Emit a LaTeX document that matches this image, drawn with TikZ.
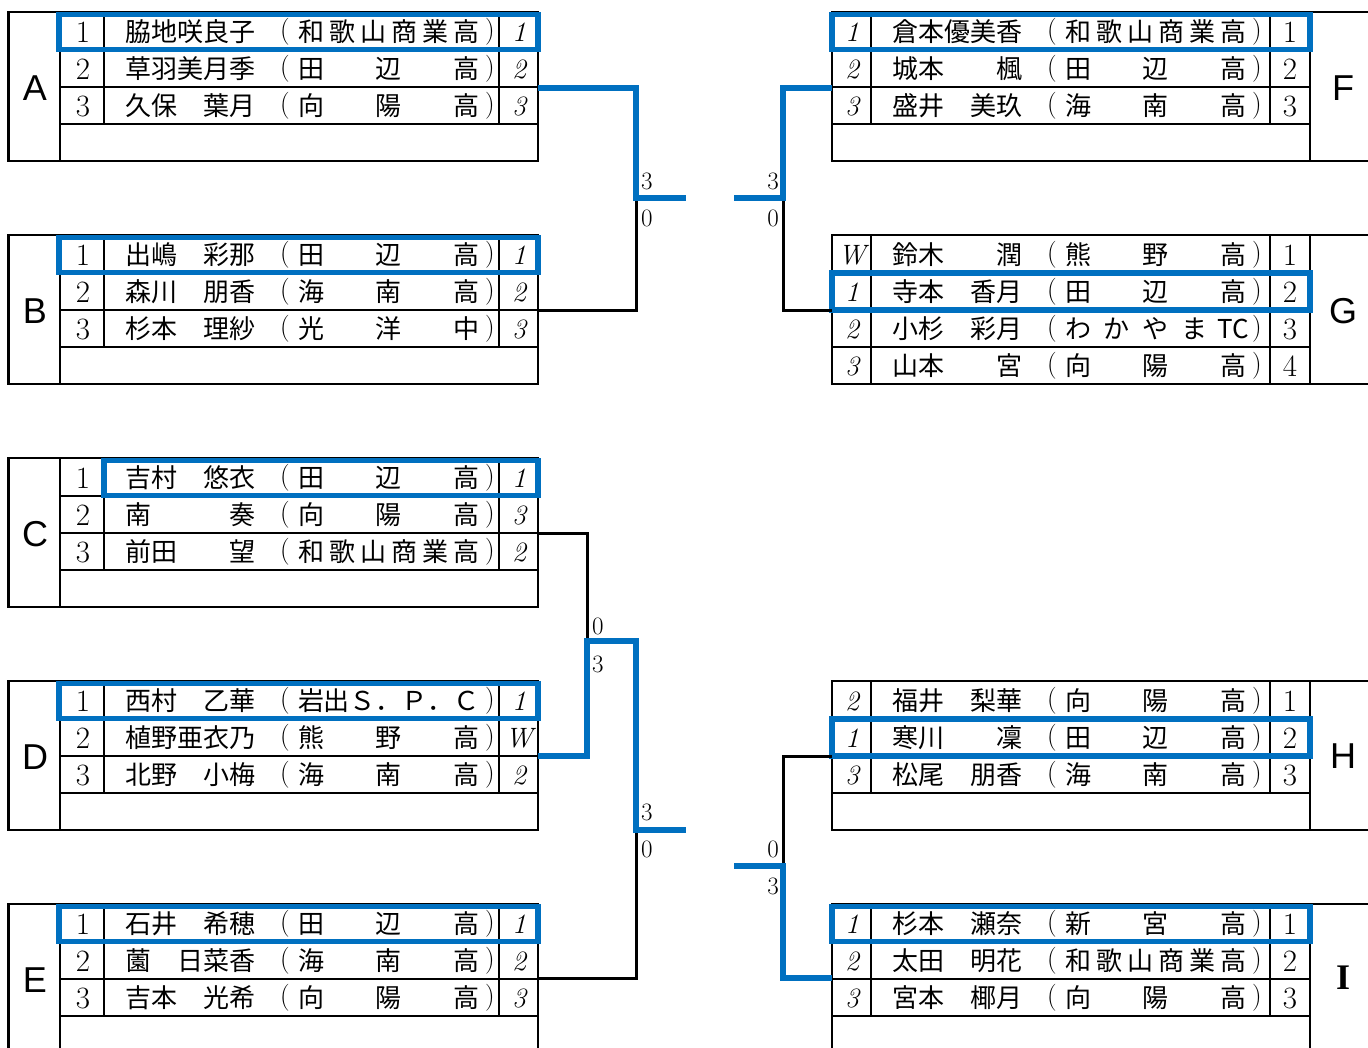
\documentclass[tikz,border=0pt]{standalone}
\usepackage{fontspec}
\newfontfamily\cjk{Noto Sans CJK JP}
\newfontfamily\arial{Liberation Sans}
\newfontfamily\tnr{Liberation Serif}
\definecolor{bbl}{HTML}{0070C0}
\tikzset{
 tbl/.style={line width=2.7pt, draw=black},
 win/.style={line width=5.5pt, draw=bbl},
 bline/.style={line width=6pt, draw=bbl},
 kline/.style={line width=3pt, draw=black},
 jp/.style={font=\cjk\fontsize{26}{30}\selectfont, inner sep=0pt, text height=22pt, text depth=4pt},
 par/.style={font=\fontsize{27}{30}\selectfont, inner sep=0pt},
 num/.style={font=\fontsize{31}{34}\selectfont, inner sep=0pt},
 seed/.style={font=\fontsize{28}{31}\selectfont\itshape, inner sep=0pt},
 score/.style={font=\fontsize{25}{28}\selectfont, inner sep=0pt},
 grpletter/.style={font=\arial\fontsize{36}{40}\selectfont, inner sep=0pt},
}
% left row: id, y, rank, name, n, items, seed
\newcommand\Lrow[7]{%
 \node[num] (#1-rk) at (83,#2) {#3};
 \node[jp,anchor=west] (#1-nm) at (125,#2) {#4};
 \node[par] (#1-po) at (285,#2) {(};
 \foreach \sc [count=\k] in {#6} \node[jp] (#1-s\k) at ({311+(\k-1)*155/(#5-1)},#2) {\sc};
 \node[par] (#1-pc) at (490,#2) {)};
 \node[seed] (#1-sd) at (519,#2) {#7};
}
% right row: id, y, seed, name, n, items, rank
\newcommand\Rrow[7]{%
 \node[seed] (#1-sd) at (852,#2) {#3};
 \node[jp,anchor=west] (#1-nm) at (892,#2) {#4};
 \node[par] (#1-po) at (1052,#2) {(};
 \foreach \sc [count=\k] in {#6} \node[jp] (#1-s\k) at ({1078+(\k-1)*155/(#5-1)},#2) {\sc};
 \node[par] (#1-pc) at (1257,#2) {)};
 \node[num] (#1-rk) at (1290,#2) {#7};
}
% left group: letter, top
\newcommand\Lgrp[2]{%
 \draw[tbl] (8.5,#2) rectangle (538,#2+149);
 \draw[tbl] (60,#2) -- (60,#2+149);
 \draw[tbl] (60,#2+38) -- (538,#2+38) (60,#2+75) -- (538,#2+75) (60,#2+112) -- (538,#2+112);
 \draw[tbl] (104,#2) -- (104,#2+112) (499,#2) -- (499,#2+112);
 \node[grpletter] (grp#1) at (35,#2+76) {#1};
}
% right group: letter, top, bottom of inner verticals
\newcommand\Rgrp[3]{%
 \draw[tbl] (832,#2) rectangle (1385,#2+149);
 \draw[tbl] (1310,#2) -- (1310,#2+149);
 \draw[tbl] (832,#2+38) -- (1310,#2+38) (832,#2+75) -- (1310,#2+75) (832,#2+112) -- (1310,#2+112);
 \draw[tbl] (871,#2) -- (871,#2+#3) (1270,#2) -- (1270,#2+#3);
}
\begin{document}
\begin{tikzpicture}[x=1pt,y=-1pt]
\useasboundingbox (0,0) rectangle (1368,1047);
\clip (0,0) rectangle (1368,1047);
\fill[white] (0,0) rectangle (1368,1047);

% ---------- tables ----------
\Lgrp{A}{12}
\Lgrp{B}{235}
\Lgrp{C}{458}
\Lgrp{D}{681}
\Lgrp{E}{904}
\Rgrp{F}{12}{112}
\Rgrp{G}{235}{149}
\Rgrp{H}{681}{112}
\Rgrp{I}{904}{112}
\node[grpletter] (grpF) at (1343,88) {F};
\node[grpletter] (grpG) at (1343,311) {G};
\node[grpletter] (grpH) at (1343,756) {H};
\node[font=\tnr\bfseries\fontsize{36}{40}\selectfont, inner sep=0pt] (grpI) at (1343,978) {I};

% ---------- rows ----------
\Lrow{a1}{32}{1}{脇地咲良子}{6}{和,歌,山,商,業,高}{1}
\Lrow{a2}{69}{2}{草羽美月季}{3}{田,辺,高}{2}
\Lrow{a3}{106}{3}{久保　葉月}{3}{向,陽,高}{3}

\Lrow{b1}{255}{1}{出嶋　彩那}{3}{田,辺,高}{1}
\Lrow{b2}{292}{2}{森川　朋香}{3}{海,南,高}{2}
\Lrow{b3}{329}{3}{杉本　理紗}{3}{光,洋,中}{3}

\Lrow{c1}{478}{1}{吉村　悠衣}{3}{田,辺,高}{1}
\Lrow{c2}{515}{2}{南　　　奏}{3}{向,陽,高}{3}
\Lrow{c3}{552}{3}{前田　　望}{6}{和,歌,山,商,業,高}{2}

\Lrow{d1}{701}{1}{西村　乙華}{7}{岩,出,Ｓ,．,Ｐ,．,Ｃ}{1}
\Lrow{d2}{738}{2}{植野亜衣乃}{3}{熊,野,高}{W}
\Lrow{d3}{775}{3}{北野　小梅}{3}{海,南,高}{2}

\Lrow{e1}{924}{1}{石井　希穂}{3}{田,辺,高}{1}
\Lrow{e2}{961}{2}{薗　日菜香}{3}{海,南,高}{2}
\Lrow{e3}{998}{3}{吉本　光希}{3}{向,陽,高}{3}

\Rrow{f1}{32}{1}{倉本優美香}{6}{和,歌,山,商,業,高}{1}
\Rrow{f2}{69}{2}{城本　　楓}{3}{田,辺,高}{2}
\Rrow{f3}{106}{3}{盛井　美玖}{3}{海,南,高}{3}

\Rrow{g1}{255}{W}{鈴木　　潤}{3}{熊,野,高}{1}
\Rrow{g2}{292}{1}{寺本　香月}{3}{田,辺,高}{2}
\Rrow{g3}{329}{2}{小杉　彩月}{5}{わ,か,や,ま,TC}{3}
\Rrow{g4}{366}{3}{山本　　宮}{3}{向,陽,高}{4}

\Rrow{h1}{701}{2}{福井　梨華}{3}{向,陽,高}{1}
\Rrow{h2}{738}{1}{寒川　　凜}{3}{田,辺,高}{2}
\Rrow{h3}{775}{3}{松尾　朋香}{3}{海,南,高}{3}

\Rrow{i1}{924}{1}{杉本　瀬奈}{3}{新,宮,高}{1}
\Rrow{i2}{961}{2}{太田　明花}{6}{和,歌,山,商,業,高}{2}
\Rrow{i3}{998}{3}{宮本　椰月}{3}{向,陽,高}{3}

% ---------- winner boxes ----------
\draw[win] (59,14.5) rectangle (538,49.5);
\draw[win] (59,237.5) rectangle (538,272.5);
\draw[win] (104,460.5) rectangle (538,495.5);
\draw[win] (59,683.5) rectangle (538,718.5);
\draw[win] (59,906.5) rectangle (538,941.5);
\draw[win] (832,14.5) rectangle (1310,49.5);
\draw[win] (832,273) rectangle (1310,310);
\draw[win] (832,719) rectangle (1310,756);
\draw[win] (832,906.5) rectangle (1310,941.5);

% ---------- bracket ----------
\coordinate (Aj) at (538,88);
\coordinate (Bj) at (538,310);
\coordinate (ABm) at (636,198);
\coordinate (ABend) at (686,198);
\draw[kline] (ABm) |- (Bj);
\draw[bline] (Aj) -| (ABm) -- (ABend);

\coordinate (Fj) at (832,88);
\coordinate (Gj) at (832,310);
\coordinate (FGm) at (783,198);
\coordinate (FGend) at (734,198);
\draw[kline] (FGm) |- (Gj);
\draw[bline] (Fj) -| (FGm) -- (FGend);

\coordinate (Cj) at (538,533);
\coordinate (Dj) at (538,756);
\coordinate (CDm) at (587,641);
\coordinate (CDEm) at (636,830);
\coordinate (CDEend) at (686,830);
\coordinate (Ej) at (538,978);
\draw[kline] (Cj) -| (CDm);
\draw[kline] (CDEm) |- (Ej);
\draw[bline] (Dj) -| (CDm) -| (CDEm) -- (CDEend);

\coordinate (Hj) at (832,756);
\coordinate (Ij) at (832,978);
\coordinate (HIm) at (783,866);
\coordinate (HIend) at (734,866);
\draw[kline] (Hj) -| (HIm);
\draw[bline] (HIend) -- (HIm) |- (Ij);

% ---------- scores ----------
\node[score,anchor=west] (sAB1) at (641,181) {3};
\node[score,anchor=west] (sAB2) at (641,218) {0};
\node[score,anchor=east] (sFG1) at (779,181) {3};
\node[score,anchor=east] (sFG2) at (779,218) {0};
\node[score,anchor=west] (sCD1) at (592,626) {0};
\node[score,anchor=west] (sCD2) at (592,664) {3};
\node[score,anchor=west] (sCDE1) at (641,812) {3};
\node[score,anchor=west] (sCDE2) at (641,849) {0};
\node[score,anchor=east] (sHI1) at (779,849) {0};
\node[score,anchor=east] (sHI2) at (779,886) {3};
\end{tikzpicture}
\end{document}
